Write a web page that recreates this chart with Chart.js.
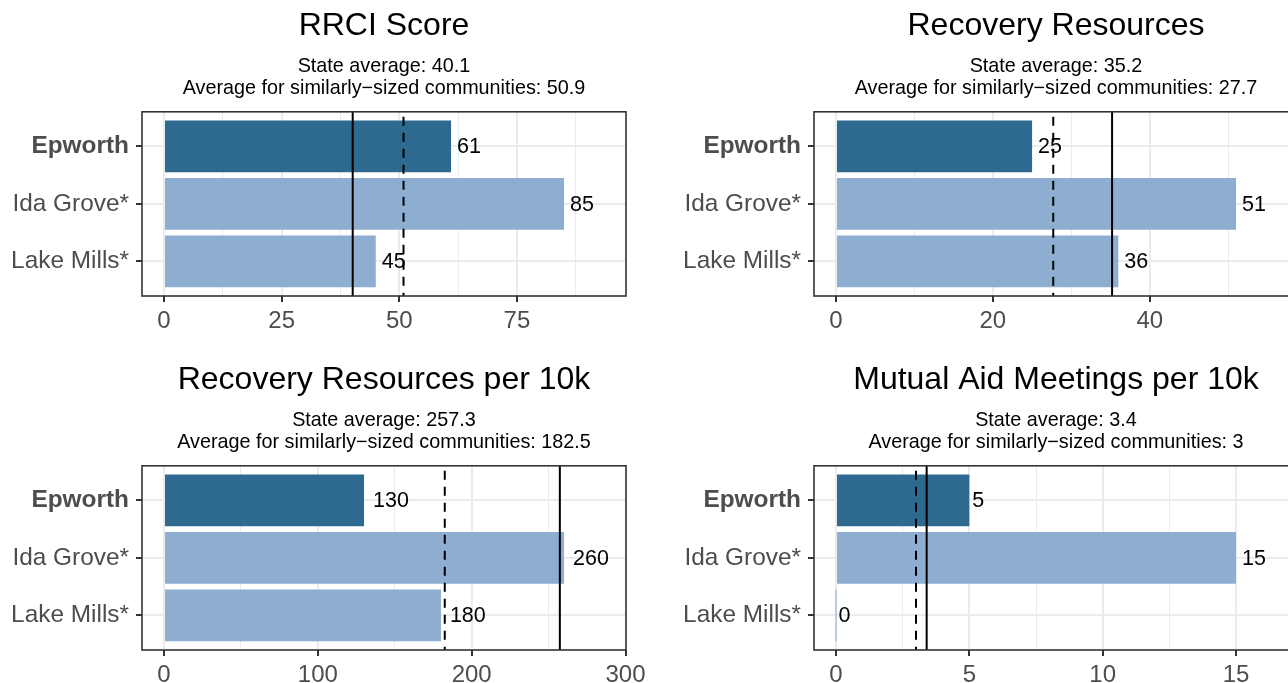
<!DOCTYPE html>
<html>
<head>
<meta charset="utf-8">
<script src="https://cdn.jsdelivr.net/npm/chart.js@4.4.0/dist/chart.umd.min.js"></script>
<style>
html,body{margin:0;padding:0;background:#fff;overflow:hidden;width:1288px;height:683px;}
.cell{position:absolute;width:672px;height:354px;}
canvas{display:block;}
</style>
</head>
<body>
<div class="cell" style="left:0px;top:0px"><canvas id="c0" width="672" height="354"></canvas></div>
<div class="cell" style="left:672px;top:0px"><canvas id="c1" width="672" height="354"></canvas></div>
<div class="cell" style="left:0px;top:354px"><canvas id="c2" width="672" height="354"></canvas></div>
<div class="cell" style="left:672px;top:354px"><canvas id="c3" width="672" height="354"></canvas></div>
<script>
// ---- data ----
const communities = ['Epworth', 'Ida Grove*', 'Lake Mills*'];
const focusCommunity = 'Epworth';
const panelTitles = ['RRCI Score', 'Recovery Resources', 'Recovery Resources per 10k', 'Mutual Aid Meetings per 10k'];
const rrciScore = [61, 85, 45];
const recoveryResources = [25, 51, 36];
const resourcesPer10k = [130, 260, 180];
const meetingsPer10k = [5, 15, 0];
const stateAverages = [40.1, 35.2, 257.3, 3.4];
const similarAverages = [50.9, 27.7, 182.5, 3];
const majorTicks = [[0, 25, 50, 75], [0, 20, 40], [0, 100, 200, 300], [0, 5, 10, 15]];
const minorTicks = [[12.5, 37.5, 62.5, 87.5], [10, 30, 50], [50, 150, 250], [2.5, 7.5, 12.5]];
const panelValues = [rrciScore, recoveryResources, resourcesPer10k, meetingsPer10k];

// ---- styling ----
const FONT = '"Liberation Sans", Arial, Helvetica, sans-serif';
const DARK = '#2E6A8F';
const LIGHT = '#8DAED1';

const panelDecor = {
  id: 'panelDecor',
  afterDatasetsDraw(chart, args, opts) {
    const ctx = chart.ctx, a = chart.chartArea, x = chart.scales.x;
    ctx.save();
    ctx.beginPath();
    ctx.rect(a.left, a.top, a.right - a.left, a.bottom - a.top);
    ctx.clip();
    ctx.strokeStyle = '#000';
    ctx.lineWidth = 2;
    // state average (solid)
    let px = x.getPixelForValue(opts.state);
    ctx.setLineDash([]);
    ctx.beginPath(); ctx.moveTo(px, a.top); ctx.lineTo(px, a.bottom); ctx.stroke();
    // similar-sized average (dashed)
    px = x.getPixelForValue(opts.similar);
    ctx.setLineDash([9, 7]);
    ctx.lineDashOffset = 11;
    ctx.beginPath(); ctx.moveTo(px, a.top); ctx.lineTo(px, a.bottom); ctx.stroke();
    ctx.setLineDash([]);
    ctx.restore();

    ctx.save();
    // value labels (left-aligned, nudged by a quarter of their width)
    const meta = chart.getDatasetMeta(0);
    const ds = chart.data.datasets[0].data;
    ctx.fillStyle = '#000';
    ctx.font = '21.5px ' + FONT;
    ctx.textAlign = 'left';
    ctx.textBaseline = 'middle';
    meta.data.forEach((bar, i) => {
      const txt = String(ds[i].x);
      const w = ctx.measureText(txt).width;
      ctx.fillText(txt, bar.x + 0.25 * w, bar.y + 1);
    });
    // panel border
    ctx.strokeStyle = '#333333';
    ctx.lineWidth = 1.6;
    ctx.strokeRect(a.left, a.top, a.right - a.left, a.bottom - a.top);
    ctx.restore();
  }
};

function makePanel(k) {
  const values = panelValues[k];
  const maxV = Math.max(...values) * 1.1;
  const pad = maxV * 0.05;
  const major = majorTicks[k];
  const minor = minorTicks[k];
  const allTicks = major.concat(minor).sort((p, q) => p - q);
  const isMajor = v => major.includes(v);

  new Chart(document.getElementById('c' + k), {
    type: 'bar',
    data: {
      datasets: [{
        data: values.map((v, i) => ({ x: v, y: i })),
        backgroundColor: communities.map(c => c === focusCommunity ? DARK : LIGHT),
        borderWidth: 0,
        barPercentage: 0.9,
        categoryPercentage: 1,
        minBarLength: 1
      }]
    },
    options: {
      indexAxis: 'y',
      responsive: false,
      animation: false,
      layout: { padding: { left: 0, right: 46, top: 0, bottom: 0 } },
      plugins: {
        legend: { display: false },
        tooltip: { enabled: false },
        title: {
          display: true, text: panelTitles[k], color: '#000', fullSize: false,
          font: { family: FONT, size: 32, weight: 'normal' },
          padding: { top: 6.8, bottom: 10.6 }
        },
        subtitle: {
          display: true, color: '#000', fullSize: false,
          text: ['State average: ' + stateAverages[k],
                 'Average for similarly\u2212sized communities: ' + similarAverages[k]],
          font: { family: FONT, size: 19.8, weight: 'normal', lineHeight: 22 / 19.8 },
          padding: { top: 0, bottom: 12 }
        },
        panelDecor: { state: stateAverages[k], similar: similarAverages[k] }
      },
      scales: {
        x: {
          type: 'linear', min: -pad, max: maxV + pad,
          afterBuildTicks: s => { s.ticks = allTicks.map(v => ({ value: v })); },
          afterFit: s => { s.height = 58; },
          border: { display: false },
          ticks: {
            autoSkip: false, maxRotation: 0, padding: 5, color: '#4D4D4D',
            font: { family: FONT, size: 24 },
            callback: v => isMajor(v) ? String(v) : ''
          },
          grid: {
            color: '#EBEBEB',
            lineWidth: c => (c.tick && isMajor(c.tick.value)) ? 2 : 1,
            tickColor: c => (c.tick && isMajor(c.tick.value)) ? '#333333' : 'rgba(0,0,0,0)',
            tickLength: 6, tickWidth: 2, drawTicks: true
          }
        },
        y: {
          type: 'linear', reverse: true, min: -0.6, max: 2.6,
          offset: false,
          afterBuildTicks: s => { s.ticks = communities.map((c, i) => ({ value: i })); },
          afterFit: s => { s.width = 142; },
          border: { display: false },
          ticks: {
            autoSkip: false, padding: 7, color: '#4D4D4D',
            font: c => ({ family: FONT, size: 24.4,
              weight: (c.tick && communities[c.tick.value] === focusCommunity) ? 'bold' : 'normal' }),
            callback: v => communities[v]
          },
          grid: { offset: false, color: '#EBEBEB', lineWidth: 2, tickColor: '#333333', tickLength: 6, tickWidth: 2 }
        }
      }
    },
    plugins: [panelDecor]
  });
}

[0, 1, 2, 3].forEach(makePanel);
</script>
</body>
</html>
